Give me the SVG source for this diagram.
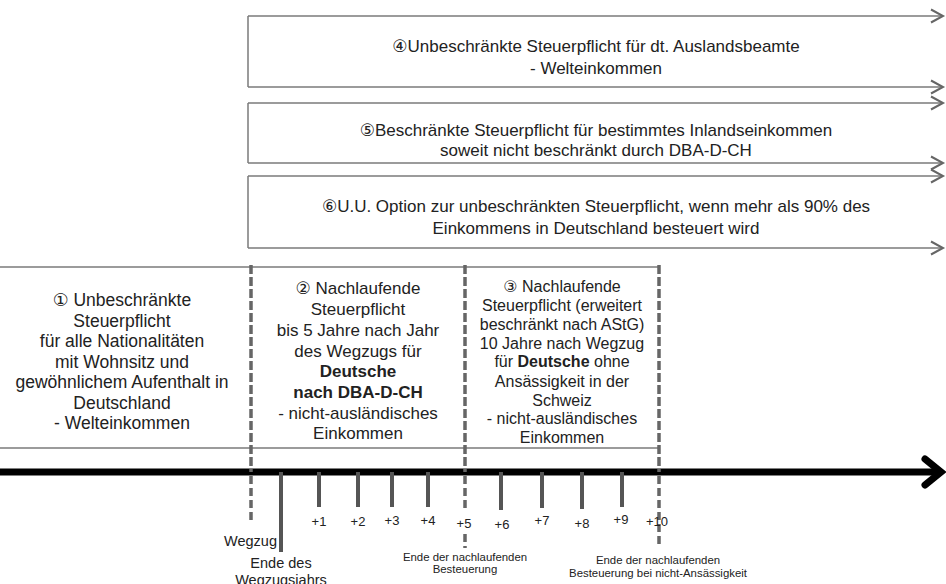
<svg xmlns="http://www.w3.org/2000/svg" width="946" height="584" viewBox="0 0 946 584">
<defs>
<style>
text{font-family:"Liberation Sans",Arial,"DejaVu Sans",sans-serif;fill:#222;text-anchor:middle}
.t17{font-size:17px}
.t175{font-size:17.5px}
.t16{font-size:16px}
.t15{font-size:14.5px}
.t12{font-size:13px}
.t11{font-size:11.4px}
.b{font-weight:bold}
.ln{stroke:#7a7a7a;stroke-width:1.5;fill:none}
.chev{stroke:#666;stroke-width:2;fill:none}
.dash{stroke:#666;stroke-width:3.5;stroke-dasharray:9 3;fill:none}
.dash2{stroke:#666;stroke-width:3.5;stroke-dasharray:8 4;fill:none}
.tick{stroke:#555;stroke-width:4;fill:none}
</style>
</defs>
<rect width="946" height="584" fill="#fff"/>

<g id="connectors">
  <line class="ln" x1="248" y1="16" x2="942" y2="16"/>
  <polyline class="chev" points="931,9.5 943,16 931,22.5"/>
  <line class="ln" x1="248" y1="87" x2="942" y2="87"/>
  <polyline class="chev" points="931,80.5 943,87 931,93.5"/>
  <line class="ln" x1="248" y1="103" x2="942" y2="103"/>
  <polyline class="chev" points="931,96.5 943,103 931,109.5"/>
  <line class="ln" x1="248" y1="163" x2="942" y2="163"/>
  <polyline class="chev" points="931,156.5 943,163 931,169.5"/>
  <line class="ln" x1="248" y1="176" x2="942" y2="176"/>
  <polyline class="chev" points="931,169.5 943,176 931,182.5"/>
  <line class="ln" x1="248" y1="248" x2="942" y2="248"/>
  <polyline class="chev" points="931,241.5 943,248 931,254.5"/>
  <line x1="0" y1="472" x2="940" y2="472" stroke="#000" stroke-width="7"/>
  <polyline points="925,459 941,472 925,485" stroke="#000" stroke-width="7" fill="none" stroke-linejoin="miter" stroke-linecap="round"/>
  <line class="tick" x1="281" y1="472" x2="281" y2="552"/>
  <line class="tick" x1="319" y1="472" x2="319" y2="507"/>
  <line class="tick" x1="358" y1="472" x2="358" y2="507"/>
  <line class="tick" x1="392" y1="472" x2="392" y2="507"/>
  <line class="tick" x1="428" y1="472" x2="428" y2="507"/>
  <line class="tick" x1="501" y1="472" x2="501" y2="510"/>
  <line class="tick" x1="542" y1="472" x2="542" y2="508"/>
  <line class="tick" x1="582" y1="472" x2="582" y2="509"/>
  <line class="tick" x1="622" y1="472" x2="622" y2="507"/>
  <line class="dash2" x1="251" y1="476" x2="251" y2="520"/>
  <line class="dash2" x1="465" y1="476" x2="465" y2="512"/>
  <line class="dash2" x1="465" y1="534" x2="465" y2="548"/>
  <line class="dash2" x1="659" y1="476" x2="659" y2="548"/>
</g>

<g id="n4">
  <line class="ln" x1="248" y1="16" x2="248" y2="87"/>
  <text class="t17" x="596" y="52">④Unbeschränkte Steuerpflicht für dt. Auslandsbeamte</text>
  <text class="t17" x="596" y="74">- Welteinkommen</text>
</g>

<g id="n5">
  <line class="ln" x1="248" y1="103" x2="248" y2="163"/>
  <text class="t17" x="596" y="136">⑤Beschränkte Steuerpflicht für bestimmtes Inlandseinkommen</text>
  <text class="t17" x="596" y="156">soweit nicht beschränkt durch DBA-D-CH</text>
</g>

<g id="n6">
  <line class="ln" x1="248" y1="176" x2="248" y2="248"/>
  <text class="t17" x="596" y="212">⑥U.U. Option zur unbeschränkten Steuerpflicht, wenn mehr als 90% des</text>
  <text class="t17" x="596" y="234">Einkommens in Deutschland besteuert wird</text>
</g>

<g id="n1">
  <line class="ln" x1="0" y1="267" x2="251" y2="267"/>
  <line class="ln" x1="0" y1="448" x2="251" y2="448"/>
  <text class="t175" x="122" y="306">① Unbeschränkte</text>
  <text class="t175" x="122" y="326.5">Steuerpflicht</text>
  <text class="t175" x="122" y="347">für alle Nationalitäten</text>
  <text class="t175" x="122" y="367.5">mit Wohnsitz und</text>
  <text class="t175" x="122" y="388">gewöhnlichem Aufenthalt in</text>
  <text class="t175" x="122" y="408.5">Deutschland</text>
  <text class="t175" x="122" y="429">- Welteinkommen</text>
</g>

<g id="n2">
  <line class="ln" x1="251" y1="267" x2="465" y2="267"/>
  <line class="ln" x1="251" y1="448" x2="465" y2="448"/>
  <line class="dash" x1="251" y1="265" x2="251" y2="472"/>
  <text class="t17" x="358" y="294">② Nachlaufende</text>
  <text class="t17" x="358" y="315">Steuerpflicht</text>
  <text class="t17" x="358" y="336">bis 5 Jahre nach Jahr</text>
  <text class="t17" x="358" y="357">des Wegzugs für</text>
  <text class="t17 b" x="358" y="377">Deutsche</text>
  <text class="t17 b" x="358" y="398">nach DBA-D-CH</text>
  <text class="t17" x="358" y="419">- nicht-ausländisches</text>
  <text class="t17" x="358" y="439">Einkommen</text>
</g>

<g id="n3">
  <line class="ln" x1="465" y1="267" x2="659" y2="267"/>
  <line class="ln" x1="465" y1="448" x2="659" y2="448"/>
  <line class="dash" x1="465" y1="265" x2="465" y2="472"/>
  <line class="dash" x1="659" y1="265" x2="659" y2="472"/>
  <text class="t16" x="562" y="292">③ Nachlaufende</text>
  <text class="t16" x="562" y="311">Steuerpflicht (erweitert</text>
  <text class="t16" x="562" y="329.5">beschränkt nach AStG)</text>
  <text class="t16" x="562" y="348.5">10 Jahre nach Wegzug</text>
  <text class="t16" x="562" y="367">für <tspan class="b">Deutsche</tspan> ohne</text>
  <text class="t16" x="562" y="386.5">Ansässigkeit in der</text>
  <text class="t16" x="562" y="405.5">Schweiz</text>
  <text class="t16" x="562" y="424">- nicht-ausländisches</text>
  <text class="t16" x="562" y="443">Einkommen</text>
</g>

<g id="labels">
  <text class="t12" x="319" y="526">+1</text>
  <text class="t12" x="358" y="526">+2</text>
  <text class="t12" x="392" y="525">+3</text>
  <text class="t12" x="428" y="525">+4</text>
  <text class="t12" x="464" y="528">+5</text>
  <text class="t12" x="502" y="529">+6</text>
  <text class="t12" x="542" y="525">+7</text>
  <text class="t12" x="582" y="528">+8</text>
  <text class="t12" x="621" y="524">+9</text>
  <text class="t12" x="657" y="526">+10</text>
  <text class="t15" x="277" y="546" style="text-anchor:end">Wegzug</text>
  <text class="t15" x="281" y="568">Ende des</text>
  <text class="t15" x="281" y="585">Wegzugsjahrs</text>
  <text class="t11" x="465" y="561">Ende der nachlaufenden</text>
  <text class="t11" x="465" y="573">Besteuerung</text>
  <text class="t11" x="658" y="564">Ende der nachlaufenden</text>
  <text class="t11" x="658" y="577">Besteuerung bei nicht-Ansässigkeit</text>
</g>
</svg>
